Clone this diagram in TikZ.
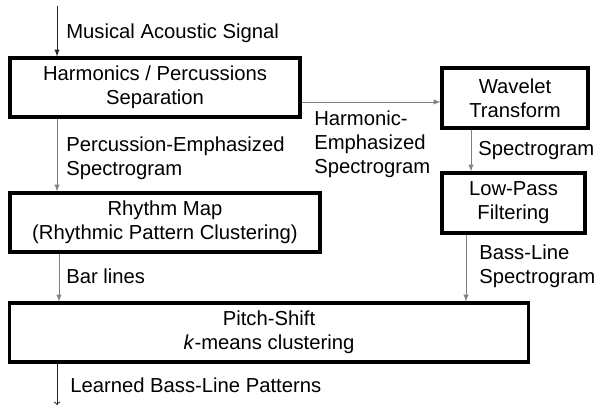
\documentclass[tikz,border=0pt]{standalone}
\usepackage{fontspec}
\setmainfont{Liberation Sans}
\tikzset{
  block/.style={draw, line width=2.2pt, align=center, inner sep=0pt, font=\fontsize{14.4}{17}\selectfont},
  lbl/.style={anchor=west, align=left, inner sep=0pt, font=\fontsize{14.4}{17}\selectfont},
  flow/.style={->, >=latex, black!50, line width=0.7pt},
}
\begin{document}
\begin{tikzpicture}[x=0.025cm, y=-0.025cm]
        \useasboundingbox (0,0) rectangle (598,405);

        % Bloecke
        \node[block, minimum width=7.25cm, minimum height=1.475cm] (sep) at (155,87.5) {Harmonics / Percussions\\Separation};
        \node[block, minimum width=3.65cm, minimum height=1.5cm] (wave) at (515,98) {Wavelet\\Transform};
        \node[block, minimum width=3.575cm, minimum height=1.5cm] (lpf) at (513.5,203) {Low-Pass\\Filtering};
        \node[block, minimum width=7.75cm, minimum height=1.475cm] (rhythm) at (165,222.5) {Rhythm Map\\(Rhythmic Pattern Clustering)};
        \node[block, minimum width=12.95cm, minimum height=1.475cm] (pitch) at (269,332.5) {Pitch-Shift\\\textit{k}-means clustering};

        % Hilfspunkte
        \coordinate (in) at (57,6);
        \coordinate (out) at (57,405);
        \coordinate (bx) at (59,0);
        \coordinate (hy) at (0,102);
        \coordinate (wx) at (471,0);
        \coordinate (lx) at (466,0);

        % Pfeile
        \draw[flow, black!85] (in) -- (in |- sep.north);
        \draw[flow] (sep.south -| in) -- (rhythm.north -| in);
        \draw[flow] (sep.east |- hy) -- (wave.west |- hy);
        \draw[flow] (wave.south -| wx) -- (lpf.north -| wx);
        \draw[flow] (lpf.south -| lx) -- (pitch.north -| lx);
        \draw[flow] (rhythm.south -| bx) -- (pitch.north -| bx);
        \draw[flow, black!85, >=to] (pitch.south -| out) -- (out);

        % Beschriftungen
        \node[lbl] (insig) at (66,33) {Musical Acoustic Signal};
        \node[lbl] (perc) at (66,158.5) {Percussion-Emphasized\\Spectrogram};
        \node[lbl] (harm) at (314,144) {Harmonic-\\Emphasized\\Spectrogram};
        \node[lbl] (spec) at (478,151) {Spectrogram};
        \node[lbl] (bass) at (479,266.5) {Bass-Line\\Spectrogram};
        \node[lbl] (bar) at (66,276) {Bar lines};
        \node[lbl] (learn) at (70,385) {Learned Bass-Line Patterns};
\end{tikzpicture}
\end{document}
